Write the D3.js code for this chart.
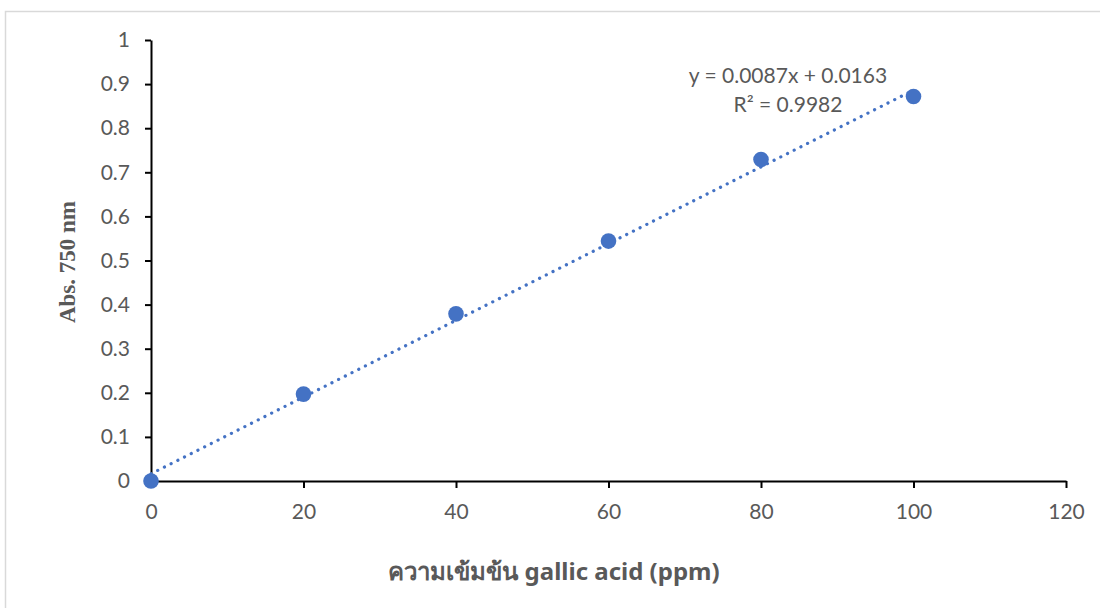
<!DOCTYPE html>
<html>
<head>
<meta charset="utf-8">
<script src="https://cdn.jsdelivr.net/npm/d3@7"></script>
<style>
  html, body { margin: 0; padding: 0; background: #fff; }
  svg { display: block; }
</style>
</head>
<body>
<svg id="chart" width="1100" height="608"></svg>
<script>
// Gallic acid calibration data: concentration (ppm) vs absorbance at 750 nm
const concentration = [0, 20, 40, 60, 80, 100];
const absorbance = [0, 0.197, 0.379, 0.544, 0.729, 0.872];
const xTicks = [0, 20, 40, 60, 80, 100, 120];
const yTicks = [0, 0.1, 0.2, 0.3, 0.4, 0.5, 0.6, 0.7, 0.8, 0.9, 1];
const slope = 0.0087;
const intercept = 0.0163;
const equationLines = ["y = 0.0087x + 0.0163", "R² = 0.9982"];

const svg = d3.select("#chart");
const labelColor = "#595959";
const blue = "#4472c4";

// outer chart frame
svg.append("rect")
  .attr("x", 5.5).attr("y", 11.5)
  .attr("width", 1110).attr("height", 620)
  .attr("fill", "none").attr("stroke", "#d9d9d9").attr("stroke-width", 1.5);

const x = d3.scaleLinear().domain([0, 120]).range([151, 1066]);
const y = d3.scaleLinear().domain([0, 1]).range([481, 40]);

// axes
const xAxis = svg.append("g")
  .attr("transform", `translate(0,${y(0)})`)
  .call(d3.axisBottom(x).tickValues(xTicks).tickSize(7).tickPadding(16).tickSizeOuter(0));
const yAxis = svg.append("g")
  .attr("transform", `translate(${x(0)},0)`)
  .call(d3.axisLeft(y).tickValues(yTicks).tickSize(6).tickPadding(15)
    .tickFormat(d => d3.format("")(+d.toFixed(1))).tickSizeOuter(0));

[xAxis, yAxis].forEach(g => {
  g.select(".domain").attr("stroke", "#000").attr("stroke-width", 2);
  g.selectAll(".tick line").attr("stroke", "#000").attr("stroke-width", 2);
  g.selectAll(".tick text")
    .attr("fill", labelColor)
    .style("font-family", "Lato, 'Open Sans', sans-serif")
    .style("font-size", "21px");
});

// linear trendline (dotted)
const fit = d3.line().x(d => x(d)).y(d => y(slope * d + intercept));
svg.append("path")
  .datum([0, 100])
  .attr("d", fit)
  .attr("fill", "none")
  .attr("stroke", blue)
  .attr("stroke-width", 3.2)
  .attr("stroke-linecap", "round")
  .attr("stroke-dasharray", "0.1 7.4");

// data markers
svg.append("g").selectAll("circle")
  .data(concentration.map((c, i) => [c, absorbance[i]]))
  .join("circle")
  .attr("cx", d => x(d[0]))
  .attr("cy", d => y(d[1]))
  .attr("r", 7.8)
  .attr("fill", blue);

// trendline equation
svg.append("text")
  .attr("x", 788).attr("y", 83)
  .attr("text-anchor", "middle")
  .attr("fill", labelColor)
  .style("font-family", "Lato, 'Open Sans', sans-serif")
  .style("font-size", "21px")
  .selectAll("tspan")
  .data(equationLines)
  .join("tspan")
  .attr("x", 788)
  .attr("dy", (d, i) => i === 0 ? 0 : 29)
  .text(d => d);

// axis titles
svg.append("text")
  .attr("transform", "translate(75,262) rotate(-90)")
  .attr("text-anchor", "middle")
  .attr("fill", labelColor)
  .style("font-family", "'Liberation Serif', 'Times New Roman', serif")
  .style("font-weight", "bold")
  .style("font-size", "23px")
  .text("Abs. 750 nm");

svg.append("text")
  .attr("x", 554).attr("y", 580)
  .attr("text-anchor", "middle")
  .attr("fill", labelColor)
  .style("font-family", "'Noto Sans', 'Liberation Sans', sans-serif")
  .style("font-weight", "bold")
  .style("font-size", "24px")
  .text("ความเข้มข้น gallic acid (ppm)");
</script>
</body>
</html>
